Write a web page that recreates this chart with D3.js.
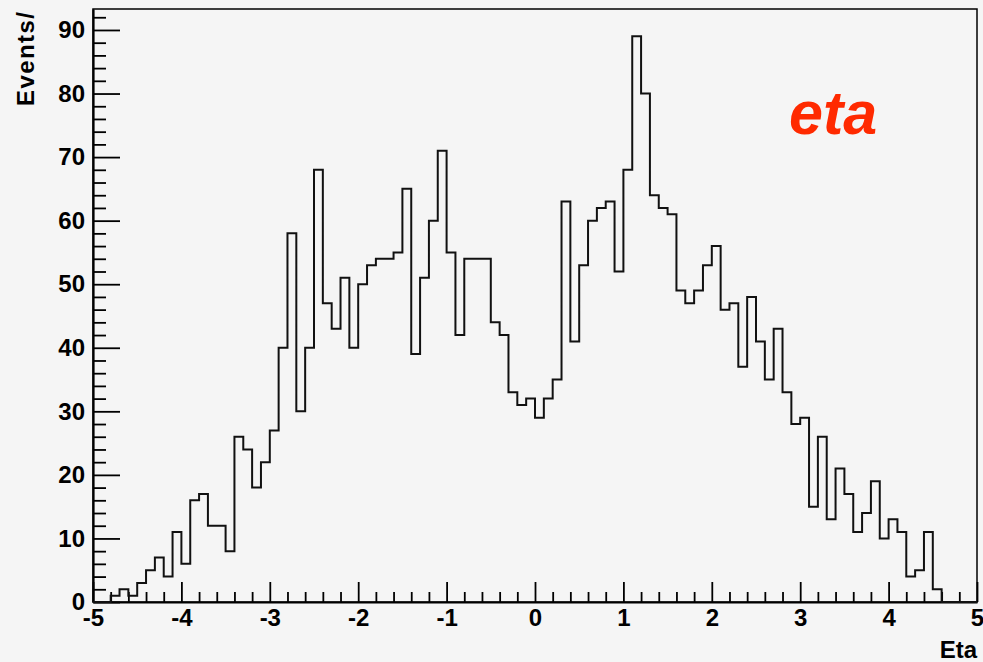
<!DOCTYPE html>
<html>
<head>
<meta charset="utf-8">
<script src="https://cdn.jsdelivr.net/npm/d3@7"></script>
<style>
  body { margin: 0; background: #f5f5f5; }
  svg { display: block; font-family: "Liberation Sans", Arial, sans-serif; }
</style>
</head>
<body>
<svg width="983" height="662"></svg>
<script>
// Histogram data: 100 bins of width 0.1 from -5 to 5
const binLow = -5, binWidth = 0.1;
const counts = [
  0, 0, 1, 2, 1, 3, 5, 7, 4, 11,
  6, 16, 17, 12, 12, 8, 26, 24, 18, 22,
  27, 40, 58, 30, 40, 68, 47, 43, 51, 40,
  50, 53, 54, 54, 55, 65, 39, 51, 60, 71,
  55, 42, 54, 54, 54, 44, 42, 33, 31, 32,
  29, 32, 35, 63, 41, 53, 60, 62, 63, 52,
  68, 89, 80, 64, 62, 61, 49, 47, 49, 53,
  56, 46, 47, 37, 48, 41, 35, 43, 33, 28,
  29, 15, 26, 13, 21, 17, 11, 14, 19, 10,
  13, 11, 4, 5, 11, 2, 0, 0, 0, 0
];
const xMajor = [-5, -4, -3, -2, -1, 0, 1, 2, 3, 4, 5];
const yMajor = [0, 10, 20, 30, 40, 50, 60, 70, 80, 90];

const svg = d3.select("svg"),
    padL = 93, padR = 977, padT = 9, padB = 602;

const x = d3.scaleLinear().domain([-5, 5]).range([padL, padR]);
const y = d3.scaleLinear().domain([0, 93.3]).range([padB, padT]);

// frame
svg.append("rect")
    .attr("x", padL).attr("y", padT)
    .attr("width", padR - padL).attr("height", padB - padT)
    .attr("fill", "#f5f5f5")
    .attr("stroke", "#000")
    .attr("stroke-width", 1.5);

// minor ticks
const xMinor = d3.range(-50, 51, 2).map(d => d / 10).filter(d => !xMajor.includes(d));
const yMinor = d3.range(0, 93, 2).filter(d => d % 10 !== 0);

svg.append("g")
    .attr("transform", `translate(0,${padB})`)
    .call(d3.axisBottom(x).tickValues(xMinor).tickSizeInner(-10).tickSizeOuter(0).tickFormat(""))
    .call(g => g.select(".domain").remove())
    .selectAll("line").attr("stroke-width", 1.8);

svg.append("g")
    .attr("transform", `translate(${padL},0)`)
    .call(d3.axisLeft(y).tickValues(yMinor).tickSizeInner(-13).tickSizeOuter(0).tickFormat(""))
    .call(g => g.select(".domain").remove())
    .selectAll("line").attr("stroke-width", 1.8);

// major ticks + labels (plain hyphen minus, like ROOT)
const fmt = d => String(d);

const xAxis = svg.append("g")
    .attr("transform", `translate(0,${padB})`)
    .call(d3.axisBottom(x).tickValues(xMajor).tickSizeInner(-20).tickSizeOuter(0).tickPadding(7).tickFormat(fmt));
xAxis.selectAll("line").attr("stroke-width", 1.8);
xAxis.select(".domain").attr("stroke-width", 2.2);

const yAxis = svg.append("g")
    .attr("transform", `translate(${padL},0)`)
    .call(d3.axisLeft(y).tickValues(yMajor).tickSizeInner(-27).tickSizeOuter(0).tickPadding(8).tickFormat(fmt));
yAxis.selectAll("line").attr("stroke-width", 1.8);
yAxis.select(".domain").attr("stroke-width", 2.2);

svg.selectAll(".tick text")
    .attr("fill", "#000")
    .style("font-size", "24px")
    .style("font-weight", "bold")
    .style("font-family", "'Liberation Sans', Arial, sans-serif");

// histogram outline
const pts = [[binLow, 0]];
counts.forEach((c, i) => pts.push([binLow + i * binWidth, c]));
pts.push([binLow + counts.length * binWidth, counts[counts.length - 1]]);
pts.push([binLow + counts.length * binWidth, 0]);

svg.append("path")
    .datum(pts)
    .attr("fill", "none")
    .attr("stroke", "#111")
    .attr("stroke-width", 2)
    .attr("d", d3.line()
        .x(d => x(d[0]))
        .y(d => y(d[1]))
        .curve(d3.curveStepAfter));

// axis titles
svg.append("text")
    .attr("transform", "translate(34,12) rotate(-90)")
    .attr("text-anchor", "end")
    .style("font-size", "24px")
    .style("font-weight", "bold")
    .attr("textLength", 94)
    .text("Events/");

svg.append("text")
    .attr("x", 977).attr("y", 658)
    .attr("text-anchor", "end")
    .style("font-size", "24px")
    .style("font-weight", "bold")
    .text("Eta");

// label
svg.append("text")
    .attr("x", 789).attr("y", 134)
    .attr("fill", "#ff2a00")
    .style("font-size", "61px")
    .style("font-weight", "bold")
    .style("font-style", "italic")
    .text("eta");
</script>
</body>
</html>
